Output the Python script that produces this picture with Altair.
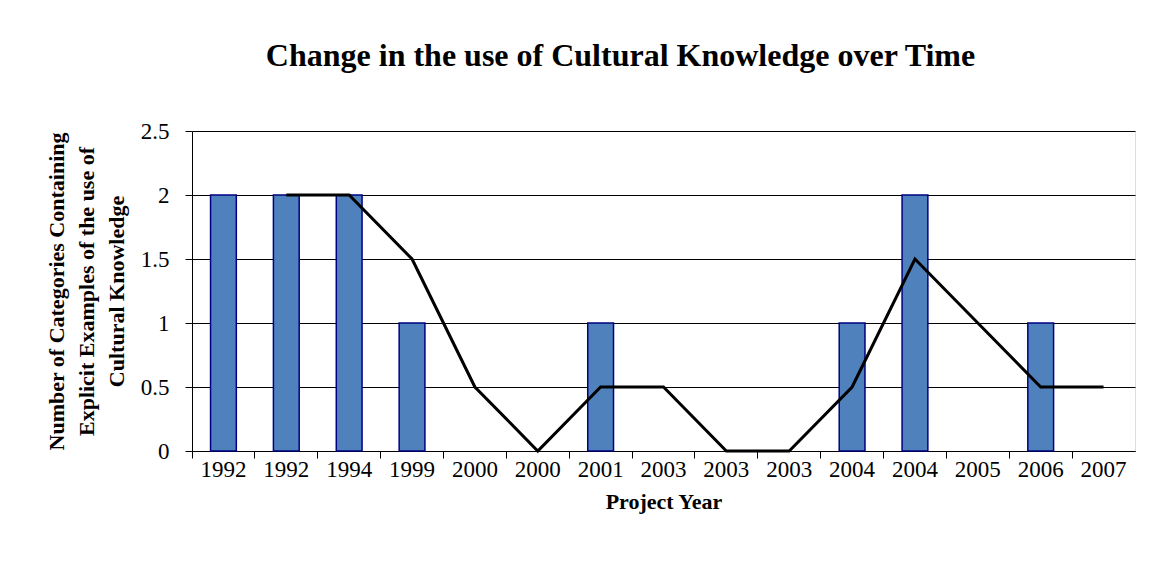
import altair as alt
import pandas as pd

years = ["1992", "1992", "1994", "1999", "2000", "2000", "2001", "2003",
         "2003", "2003", "2004", "2004", "2005", "2006", "2007"]
counts = [2, 2, 2, 1, 0, 0, 1, 0, 0, 0, 1, 2, 0, 1, 0]
# two-period moving average (starts at the second project)
avg_idx = list(range(1, 15))
avg_vals = [2, 2, 1.5, 0.5, 0, 0.5, 0.5, 0, 0, 0.5, 1.5, 1, 0.5, 0.5]

bars_df = pd.DataFrame({"idx": list(range(len(years))), "year": years, "count": counts})
line_df = pd.DataFrame({"idx": avg_idx, "avg": avg_vals})

label_expr = "[" + ",".join("'%s'" % y for y in years) + "][datum.value]"
FONT = "Liberation Serif"
W, H = 943, 320

xscale = alt.Scale(domain=list(range(len(years))), paddingInner=0, paddingOuter=0)
yscale = alt.Scale(domain=[0, 2.5])

xenc = alt.X("idx:O", scale=xscale, sort=None,
             axis=alt.Axis(title="Project Year", labelExpr=label_expr, labelAngle=0,
                           bandPosition=0, ticks=True, domain=True, tickSize=7,
                           tickWidth=1, labelPadding=0, labelFontSize=23,
                           titleFontSize=22, titleFontWeight="bold", titlePadding=10,
                           domainColor="black", tickColor="black",
                           labelColor="black", titleColor="black",
                           labelFont=FONT, titleFont=FONT))

bars = alt.Chart(bars_df).mark_bar(
    width=alt.RelativeBandSize(0.41), color="#4F81BD", stroke="#000080", strokeWidth=1.5
).encode(
    x=xenc,
    y=alt.Y("count:Q", scale=yscale,
            axis=alt.Axis(title=["Number of Categories Containing",
                                 "Explicit Examples of the use of",
                                 "Cultural Knowledge"],
                          values=[0, 0.5, 1, 1.5, 2, 2.5], format="~g",
                          grid=True, gridColor="black", gridWidth=1,
                          ticks=True, domain=True, tickSize=7, tickWidth=1,
                          labelPadding=16, labelFontSize=23,
                          titleFontSize=22, titleFontWeight="bold",
                          titleLineHeight=30, titlePadding=12,
                          domainColor="black", tickColor="black",
                          labelColor="black", titleColor="black",
                          labelFont=FONT, titleFont=FONT)),
).transform_filter("datum.count > 0")

line = alt.Chart(line_df).mark_line(color="black", strokeWidth=3).encode(
    x=alt.X("idx:O", scale=xscale, sort=None),
    y=alt.Y("avg:Q", scale=yscale),
)

chart = alt.layer(bars, line).properties(
    width=W, height=H,
    title=alt.TitleParams("Change in the use of Cultural Knowledge over Time",
                          font=FONT, fontSize=32, fontWeight="bold", color="black",
                          anchor="middle", dx=-43, offset=47),
    autosize=alt.AutoSizeParams(type="none"),
    padding={"left": 184, "top": 123, "right": 12, "bottom": 110},
).configure_view(fill="#C0C0C0", stroke="#808080", strokeWidth=2).configure(background="white")

chart.save("out.html", embed_options={"renderer": "svg", "actions": False})
